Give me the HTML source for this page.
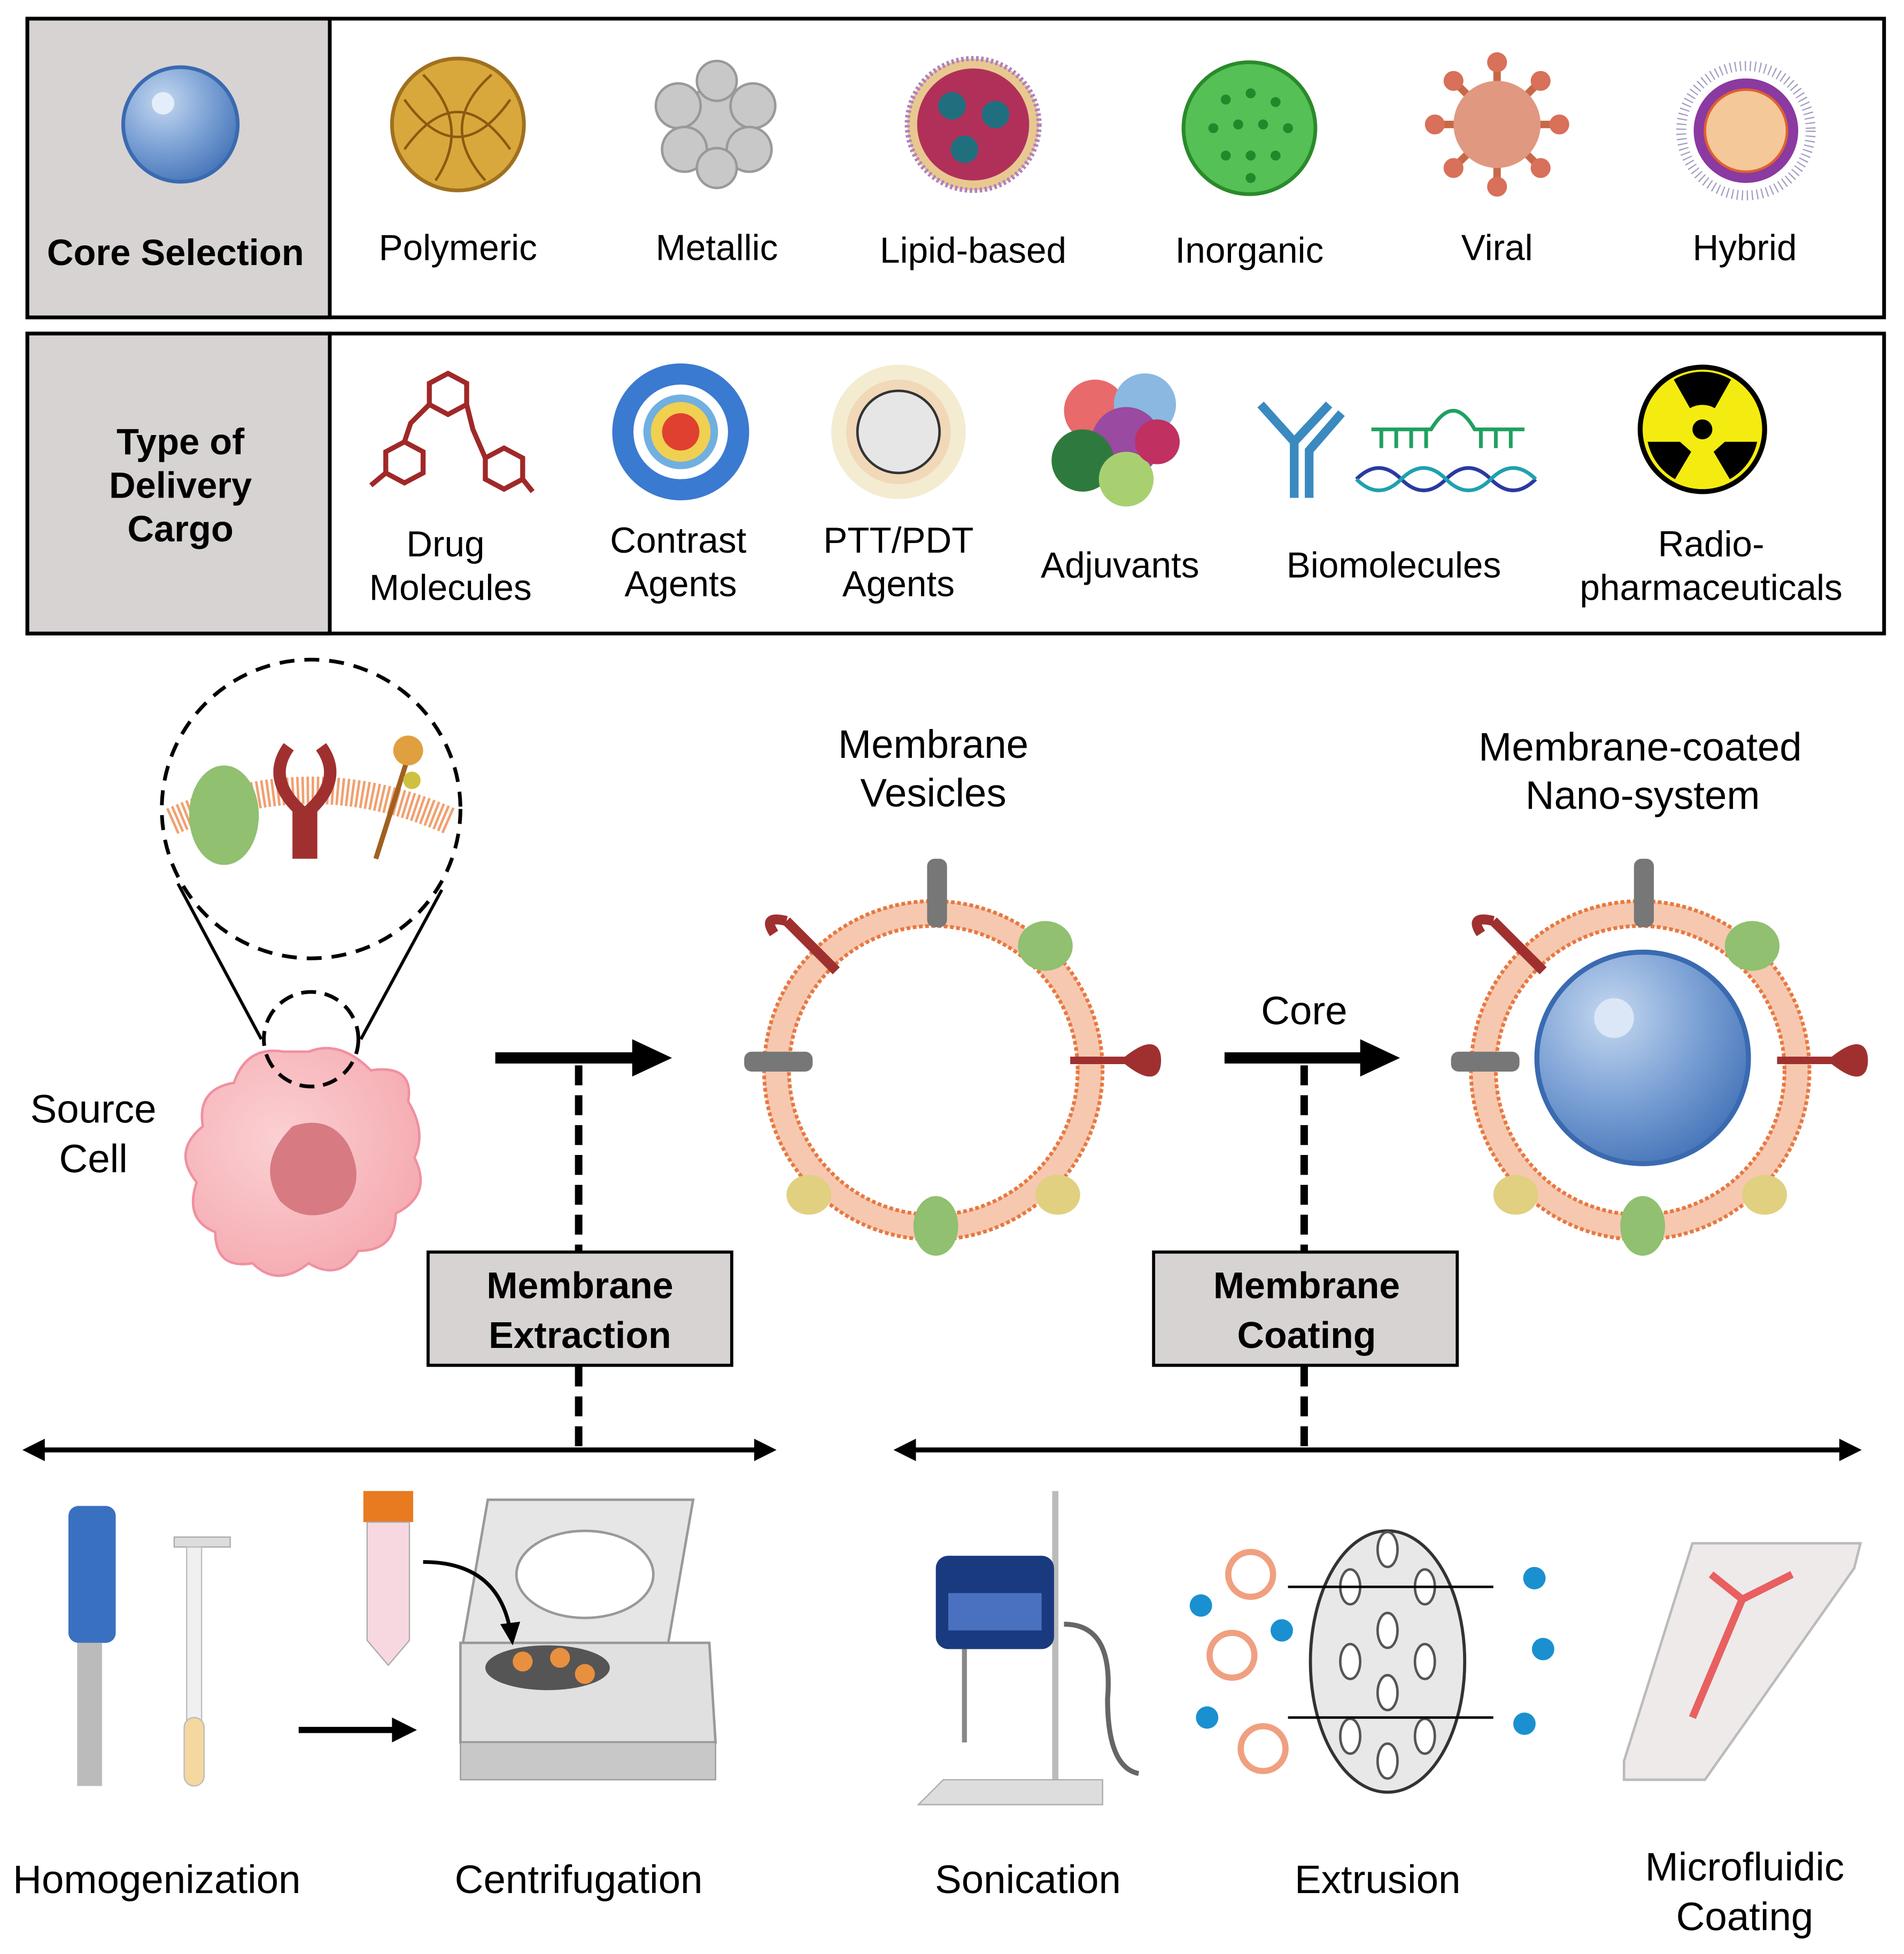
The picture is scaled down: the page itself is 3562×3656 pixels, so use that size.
<!DOCTYPE html>
<html><head><meta charset="utf-8"><style>
html,body{margin:0;padding:0;background:#fff}
svg{display:block}
text{font-family:"Liberation Sans",sans-serif;fill:#000}
.b{font-weight:bold}
</style></head><body>
<svg width="3562" height="3656" viewBox="0 0 1530 1570" preserveAspectRatio="none" xmlns="http://www.w3.org/2000/svg">
<defs>
<radialGradient id="blue" cx="0.35" cy="0.3" r="0.8"><stop offset="0" stop-color="#c5d8f0"/><stop offset="0.5" stop-color="#7ea3d6"/><stop offset="1" stop-color="#3f6fb5"/></radialGradient>
<radialGradient id="pink" cx="0.4" cy="0.4" r="0.7"><stop offset="0" stop-color="#fbd0d3"/><stop offset="1" stop-color="#f4a8ae"/></radialGradient>
</defs>
<!-- Box 1 -->
<rect x="22" y="15" width="1492" height="240" fill="#fff" stroke="#000" stroke-width="3"/>
<rect x="22" y="15" width="243" height="240" fill="#d6d3d2" stroke="#000" stroke-width="3"/>
<circle cx="145" cy="100" r="46" fill="url(#blue)" stroke="#3a6ab0" stroke-width="3"/>
<circle cx="131" cy="83" r="9" fill="#e4eefa"/>
<text x="141" y="213" font-size="29.5" class="b" text-anchor="middle">Core Selection</text>
<!-- row1 icons -->
<circle cx="368" cy="100" r="53" fill="#d9a83c" stroke="#a07020" stroke-width="3"/>
<g stroke="#8a5a10" stroke-width="2" fill="none"><path d="M325,80 Q368,140 410,80"/><path d="M325,120 Q368,60 410,120"/><path d="M340,60 Q380,100 350,145"/><path d="M395,60 Q350,100 390,145"/></g>
<g fill="#c8c8c8" stroke="#999" stroke-width="2"><circle cx="576" cy="100" r="30"/><circle cx="545" cy="85" r="18"/><circle cx="605" cy="85" r="18"/><circle cx="550" cy="120" r="18"/><circle cx="602" cy="120" r="18"/><circle cx="576" cy="65" r="16"/><circle cx="576" cy="135" r="16"/></g>
<circle cx="782" cy="100" r="53" fill="#e8c890" stroke="#b080c0" stroke-width="4" stroke-dasharray="2 2"/>
<circle cx="782" cy="100" r="45" fill="#b0305a"/>
<circle cx="765" cy="85" r="11" fill="#1f6f7f"/><circle cx="800" cy="92" r="11" fill="#1f6f7f"/><circle cx="775" cy="120" r="11" fill="#1f6f7f"/>
<circle cx="1004" cy="103" r="53" fill="#55c055" stroke="#2a8a2a" stroke-width="3"/>
<g fill="#1f8a2a"><circle cx="985" cy="80" r="4"/><circle cx="1005" cy="75" r="4"/><circle cx="1025" cy="82" r="4"/><circle cx="975" cy="103" r="4"/><circle cx="995" cy="100" r="4"/><circle cx="1015" cy="100" r="4"/><circle cx="1035" cy="103" r="4"/><circle cx="985" cy="125" r="4"/><circle cx="1005" cy="125" r="4"/><circle cx="1025" cy="125" r="4"/><circle cx="1005" cy="143" r="4"/></g>
<g stroke="#c86848" stroke-width="6"><line x1="1203" y1="50" x2="1203" y2="150"/><line x1="1153" y1="100" x2="1253" y2="100"/><line x1="1168" y1="65" x2="1238" y2="135"/><line x1="1238" y1="65" x2="1168" y2="135"/></g>
<g fill="#d8705a"><circle cx="1203" cy="50" r="8"/><circle cx="1203" cy="150" r="8"/><circle cx="1153" cy="100" r="8"/><circle cx="1253" cy="100" r="8"/><circle cx="1168" cy="65" r="8"/><circle cx="1238" cy="135" r="8"/><circle cx="1238" cy="65" r="8"/><circle cx="1168" cy="135" r="8"/></g>
<circle cx="1203" cy="100" r="35" fill="#e09880"/>
<circle cx="1403" cy="105" r="52" fill="none" stroke="#a0a0c0" stroke-width="8" stroke-dasharray="1 3"/>
<circle cx="1403" cy="105" r="42" fill="#8a3aa0"/>
<circle cx="1403" cy="105" r="33" fill="#f4c898" stroke="#e06030" stroke-width="2"/>
<text x="368" y="209" font-size="29" text-anchor="middle">Polymeric</text>
<text x="576" y="209" font-size="29" text-anchor="middle">Metallic</text>
<text x="782" y="211" font-size="29" text-anchor="middle">Lipid-based</text>
<text x="1004" y="211" font-size="29" text-anchor="middle">Inorganic</text>
<text x="1203" y="209" font-size="29" text-anchor="middle">Viral</text>
<text x="1402" y="209" font-size="29" text-anchor="middle">Hybrid</text>
<!-- Box 2 -->
<rect x="22" y="268" width="1492" height="241" fill="#fff" stroke="#000" stroke-width="3"/>
<rect x="22" y="268" width="243" height="241" fill="#d6d3d2" stroke="#000" stroke-width="3"/>
<text x="145" y="365" font-size="29.5" class="b" text-anchor="middle">Type of</text>
<text x="145" y="400" font-size="29.5" class="b" text-anchor="middle">Delivery</text>
<text x="145" y="435" font-size="29.5" class="b" text-anchor="middle">Cargo</text>
<g fill="none" stroke="#a02828" stroke-width="4"><polygon points="360,300 375,308 375,325 360,333 345,325 345,308"/><polygon points="325,355 340,363 340,380 325,388 310,380 310,363"/><polygon points="405,360 420,368 420,385 405,393 390,385 390,368"/><polyline points="345,325 330,340 325,355"/><polyline points="375,325 380,345 390,368"/><polyline points="310,380 298,390"/><polyline points="420,385 428,395"/></g>
<circle cx="547" cy="347" r="55" fill="#3a7ad0"/>
<circle cx="547" cy="347" r="38" fill="#fff"/><circle cx="547" cy="347" r="30" fill="#70b0e0"/><circle cx="547" cy="347" r="24" fill="#f0d050"/><circle cx="547" cy="347" r="15" fill="#e04030"/>
<circle cx="722" cy="347" r="54" fill="#f4ecd0"/><circle cx="722" cy="347" r="42" fill="#f0d8b8"/><circle cx="722" cy="347" r="33" fill="#e6e6e6" stroke="#333" stroke-width="2"/>
<circle cx="880" cy="330" r="25" fill="#e86a6a"/><circle cx="920" cy="325" r="25" fill="#8ab8e0"/><circle cx="905" cy="355" r="28" fill="#9a4aa0"/><circle cx="870" cy="370" r="25" fill="#2e7a3e"/><circle cx="905" cy="385" r="22" fill="#a8d070"/><circle cx="930" cy="355" r="18" fill="#c03060"/>
<g stroke="#3a8ac0" stroke-width="7" fill="none"><path d="M1013,325 L1040,355 L1068,325"/><path d="M1040,355 L1040,400"/><path d="M1052,400 L1052,362 L1078,332"/></g>
<g stroke="#20a060" stroke-width="3" fill="none"><path d="M1102,345 H1150 Q1168,315 1185,345 H1225"/><path d="M1110,345 v15 M1122,345 v15 M1134,345 v15 M1146,345 v15 M1190,345 v15 M1202,345 v15 M1214,345 v15"/></g>
<path d="M1090,385 q18,-18 36,0 t36,0 t36,0 t36,0" stroke="#2a3aa0" stroke-width="3" fill="none"/>
<path d="M1090,385 q18,18 36,0 t36,0 t36,0 t36,0" stroke="#20a0b0" stroke-width="3" fill="none"/>
<circle cx="1368" cy="345" r="50" fill="#f4ec10" stroke="#000" stroke-width="4"/>
<g fill="#000"><circle cx="1368" cy="345" r="8"/><path d="M1358,328 L1345,305 A45,45 0 0 1 1391,305 L1378,328 A20,20 0 0 0 1358,328z"/><path d="M1386,355 L1412,355 A45,45 0 0 1 1390,385 L1377,363z"/><path d="M1350,355 L1324,355 A45,45 0 0 0 1346,385 L1359,363z"/></g>
<text x="358" y="447" font-size="29" text-anchor="middle">Drug</text>
<text x="362" y="482" font-size="29" text-anchor="middle">Molecules</text>
<text x="545" y="444" font-size="29" text-anchor="middle">Contrast</text>
<text x="547" y="479" font-size="29" text-anchor="middle">Agents</text>
<text x="722" y="444" font-size="29" text-anchor="middle">PTT/PDT</text>
<text x="722" y="479" font-size="29" text-anchor="middle">Agents</text>
<text x="900" y="464" font-size="29" text-anchor="middle">Adjuvants</text>
<text x="1120" y="464" font-size="29" text-anchor="middle">Biomolecules</text>
<text x="1375" y="447" font-size="29" text-anchor="middle">Radio-</text>
<text x="1375" y="482" font-size="29" text-anchor="middle">pharmaceuticals</text>
<!-- Source cell -->
<text x="75" y="902" font-size="32" text-anchor="middle">Source</text>
<text x="75" y="942" font-size="32" text-anchor="middle">Cell</text>
<circle cx="250" cy="650" r="120" fill="#fff" stroke="#000" stroke-width="3" stroke-dasharray="12 8"/>
<path d="M138,660 Q250,610 362,660" stroke="#f0a070" stroke-width="22" fill="none" stroke-dasharray="2 2"/>
<ellipse cx="180" cy="655" rx="28" ry="40" fill="#90c070"/>
<path d="M232,600 q-18,25 8,50 v40 M258,600 q18,25 -8,50 v40" stroke="#a03030" stroke-width="10" fill="none"/>
<line x1="328" y1="608" x2="302" y2="690" stroke="#a06020" stroke-width="4"/><circle cx="328" cy="603" r="12" fill="#e0a040"/><circle cx="331" cy="627" r="7" fill="#d0c040"/>
<line x1="210" y1="835" x2="143" y2="710" stroke="#000" stroke-width="2.5"/>
<line x1="290" y1="835" x2="355" y2="715" stroke="#000" stroke-width="2.5"/>
<path d="M248,845 q25,-10 50,15 q35,-5 30,25 q15,25 5,45 q15,30 -15,45 q0,30 -30,30 q-15,25 -40,10 q-25,20 -45,0 q-30,5 -30,-25 q-25,-10 -15,-40 q-20,-25 5,-45 q-5,-30 25,-35 q10,-30 40,-25z" fill="url(#pink)" stroke="#f090a0" stroke-width="2"/>
<path d="M235,905 q30,-10 45,15 q15,30 -5,50 q-30,15 -50,-5 q-20,-30 10,-60z" fill="#d87a82"/>
<circle cx="250" cy="835" r="38" fill="none" stroke="#000" stroke-width="3" stroke-dasharray="12 7"/>
<!-- arrow 1 -->
<line x1="398" y1="850" x2="515" y2="850" stroke="#000" stroke-width="9"/>
<polygon points="508,835 540,850 508,865" fill="#000"/>
<line x1="465" y1="856" x2="465" y2="1005" stroke="#000" stroke-width="6" stroke-dasharray="16 8"/>
<rect x="344" y="1006" width="244" height="91" fill="#d6d3d2" stroke="#000" stroke-width="2.5"/>
<text x="466" y="1043" font-size="30" class="b" text-anchor="middle">Membrane</text>
<text x="466" y="1083" font-size="30" class="b" text-anchor="middle">Extraction</text>
<line x1="465" y1="1098" x2="465" y2="1162" stroke="#000" stroke-width="6" stroke-dasharray="16 8"/>
<line x1="30" y1="1165" x2="610" y2="1165" stroke="#000" stroke-width="4"/>
<polygon points="18,1165 36,1156 36,1174" fill="#000"/><polygon points="624,1165 606,1156 606,1174" fill="#000"/>
<!-- vesicle -->
<text x="750" y="609" font-size="32" text-anchor="middle">Membrane</text>
<text x="750" y="648" font-size="32" text-anchor="middle">Vesicles</text>
<circle cx="750" cy="860" r="126" fill="none" stroke="#f6c8b0" stroke-width="20"/>
<circle cx="750" cy="860" r="136" fill="none" stroke="#e87840" stroke-width="3" stroke-dasharray="3 2"/>
<circle cx="750" cy="860" r="116" fill="none" stroke="#e87840" stroke-width="3" stroke-dasharray="3 2"/>
<g id="prot">
<rect x="745" y="690" width="16" height="55" rx="6" fill="#777"/>
<ellipse cx="840" cy="760" rx="22" ry="20" fill="#90c070"/>
<ellipse cx="752" cy="985" rx="18" ry="24" fill="#90c070"/>
<ellipse cx="650" cy="960" rx="18" ry="16" fill="#e0d080"/><ellipse cx="850" cy="960" rx="18" ry="16" fill="#e0d080"/>
<rect x="598" y="845" width="55" height="16" rx="6" fill="#777"/>
<path d="M860,852 h45 M905,852 q25,-20 25,0 q0,20 -25,0" stroke="#a03030" stroke-width="6" fill="#a03030"/>
<path d="M672,780 l-40,-40 M632,740 q-20,-5 -10,10" stroke="#a03030" stroke-width="8" fill="none"/>
</g>
<!-- arrow 2 -->
<text x="1048" y="823" font-size="32" text-anchor="middle">Core</text>
<line x1="984" y1="850" x2="1100" y2="850" stroke="#000" stroke-width="9"/>
<polygon points="1093,835 1125,850 1093,865" fill="#000"/>
<line x1="1048" y1="856" x2="1048" y2="1005" stroke="#000" stroke-width="6" stroke-dasharray="16 8"/>
<rect x="927" y="1006" width="244" height="91" fill="#d6d3d2" stroke="#000" stroke-width="2.5"/>
<text x="1050" y="1043" font-size="30" class="b" text-anchor="middle">Membrane</text>
<text x="1050" y="1083" font-size="30" class="b" text-anchor="middle">Coating</text>
<line x1="1048" y1="1098" x2="1048" y2="1162" stroke="#000" stroke-width="6" stroke-dasharray="16 8"/>
<line x1="730" y1="1165" x2="1484" y2="1165" stroke="#000" stroke-width="4"/>
<polygon points="718,1165 736,1156 736,1174" fill="#000"/><polygon points="1496,1165 1478,1156 1478,1174" fill="#000"/>
<!-- nano-system -->
<text x="1318" y="611" font-size="32" text-anchor="middle">Membrane-coated</text>
<text x="1320" y="650" font-size="32" text-anchor="middle">Nano-system</text>
<circle cx="1318" cy="860" r="126" fill="none" stroke="#f6c8b0" stroke-width="20"/>
<circle cx="1318" cy="860" r="136" fill="none" stroke="#e87840" stroke-width="3" stroke-dasharray="3 2"/>
<circle cx="1318" cy="860" r="116" fill="none" stroke="#e87840" stroke-width="3" stroke-dasharray="3 2"/>
<use href="#prot" x="568" y="0"/>
<circle cx="1320" cy="850" r="85" fill="url(#blue)" stroke="#3a6ab0" stroke-width="4"/>
<circle cx="1297" cy="818" r="16" fill="#dbe7f6"/>
<!-- bottom tools -->
<rect x="55" y="1210" width="38" height="110" rx="8" fill="#3a70c0"/><rect x="62" y="1320" width="20" height="115" fill="#bbb"/>
<rect x="140" y="1235" width="45" height="8" fill="#ddd" stroke="#aaa"/><rect x="150" y="1243" width="12" height="140" fill="#f0f0f0" stroke="#bbb"/><rect x="148" y="1380" width="16" height="55" rx="8" fill="#f4d8a0" stroke="#bbb"/>
<line x1="240" y1="1390" x2="318" y2="1390" stroke="#000" stroke-width="5"/><polygon points="315,1380 335,1390 315,1400" fill="#000"/>
<rect x="292" y="1198" width="40" height="25" fill="#e87a20"/><path d="M295,1223 h34 v95 l-17,20 l-17,-20z" fill="#f8d8e0" stroke="#aaa"/>
<path d="M372,1320 l20,-115 h165 l-20,115z" fill="#e6e6e6" stroke="#999" stroke-width="2"/><ellipse cx="470" cy="1265" rx="55" ry="35" fill="#fff" stroke="#999" stroke-width="2"/>
<path d="M370,1320 h200 l5,80 h-205z" fill="#e0e0e0" stroke="#999" stroke-width="2"/><rect x="370" y="1400" width="205" height="30" fill="#c8c8c8" stroke="#999"/>
<ellipse cx="440" cy="1340" rx="50" ry="18" fill="#555"/><circle cx="420" cy="1335" r="8" fill="#e89040"/><circle cx="450" cy="1332" r="8" fill="#e89040"/><circle cx="470" cy="1345" r="8" fill="#e89040"/>
<path d="M340,1255 q60,0 70,55" stroke="#000" stroke-width="3" fill="none"/><polygon points="402,1305 412,1322 418,1303" fill="#000"/>
<line x1="848" y1="1198" x2="848" y2="1440" stroke="#bbb" stroke-width="5"/><path d="M738,1450 l20,-20 h128 l0,20z" fill="#ddd" stroke="#aaa"/>
<rect x="752" y="1250" width="95" height="75" rx="10" fill="#1a3a80"/><rect x="762" y="1280" width="75" height="30" fill="#4a70c0"/><line x1="775" y1="1325" x2="775" y2="1400" stroke="#888" stroke-width="4"/>
<path d="M855,1305 q40,0 35,60 q0,55 25,60" stroke="#666" stroke-width="4" fill="none"/>
<ellipse cx="1115" cy="1335" rx="62" ry="105" fill="#e8e8e8" stroke="#333" stroke-width="2.5"/>
<g fill="#fff" stroke="#555" stroke-width="2"><ellipse cx="1115" cy="1245" rx="8" ry="14"/><ellipse cx="1085" cy="1275" rx="8" ry="14"/><ellipse cx="1145" cy="1275" rx="8" ry="14"/><ellipse cx="1115" cy="1310" rx="8" ry="14"/><ellipse cx="1085" cy="1335" rx="8" ry="14"/><ellipse cx="1145" cy="1335" rx="8" ry="14"/><ellipse cx="1115" cy="1360" rx="8" ry="14"/><ellipse cx="1085" cy="1395" rx="8" ry="14"/><ellipse cx="1145" cy="1395" rx="8" ry="14"/><ellipse cx="1115" cy="1415" rx="8" ry="14"/></g>
<g stroke="#000" stroke-width="2"><line x1="1035" y1="1275" x2="1200" y2="1275"/><line x1="1035" y1="1380" x2="1200" y2="1380"/></g>
<g fill="none" stroke="#f0a080" stroke-width="5"><circle cx="1005" cy="1265" r="18"/><circle cx="990" cy="1330" r="18"/><circle cx="1015" cy="1405" r="18"/></g>
<g fill="#1a90d0"><circle cx="965" cy="1290" r="9"/><circle cx="1030" cy="1310" r="9"/><circle cx="970" cy="1380" r="9"/><circle cx="1233" cy="1268" r="9"/><circle cx="1240" cy="1325" r="9"/><circle cx="1225" cy="1385" r="9"/></g>
<path d="M1305,1415 l55,-175 h135 l-5,20 l-120,170 h-65z" fill="#eeeaea" stroke="#bbb" stroke-width="2"/>
<path d="M1360,1380 l40,-95 l-25,-20 M1400,1285 l40,-20" stroke="#e86060" stroke-width="6" fill="none"/>
<text x="126" y="1521" font-size="32" text-anchor="middle">Homogenization</text>
<text x="465" y="1521" font-size="32" text-anchor="middle">Centrifugation</text>
<text x="826" y="1521" font-size="32" text-anchor="middle">Sonication</text>
<text x="1107" y="1521" font-size="32" text-anchor="middle">Extrusion</text>
<text x="1402" y="1511" font-size="32" text-anchor="middle">Microfluidic</text>
<text x="1402" y="1551" font-size="32" text-anchor="middle">Coating</text>
</svg>
</body></html>
